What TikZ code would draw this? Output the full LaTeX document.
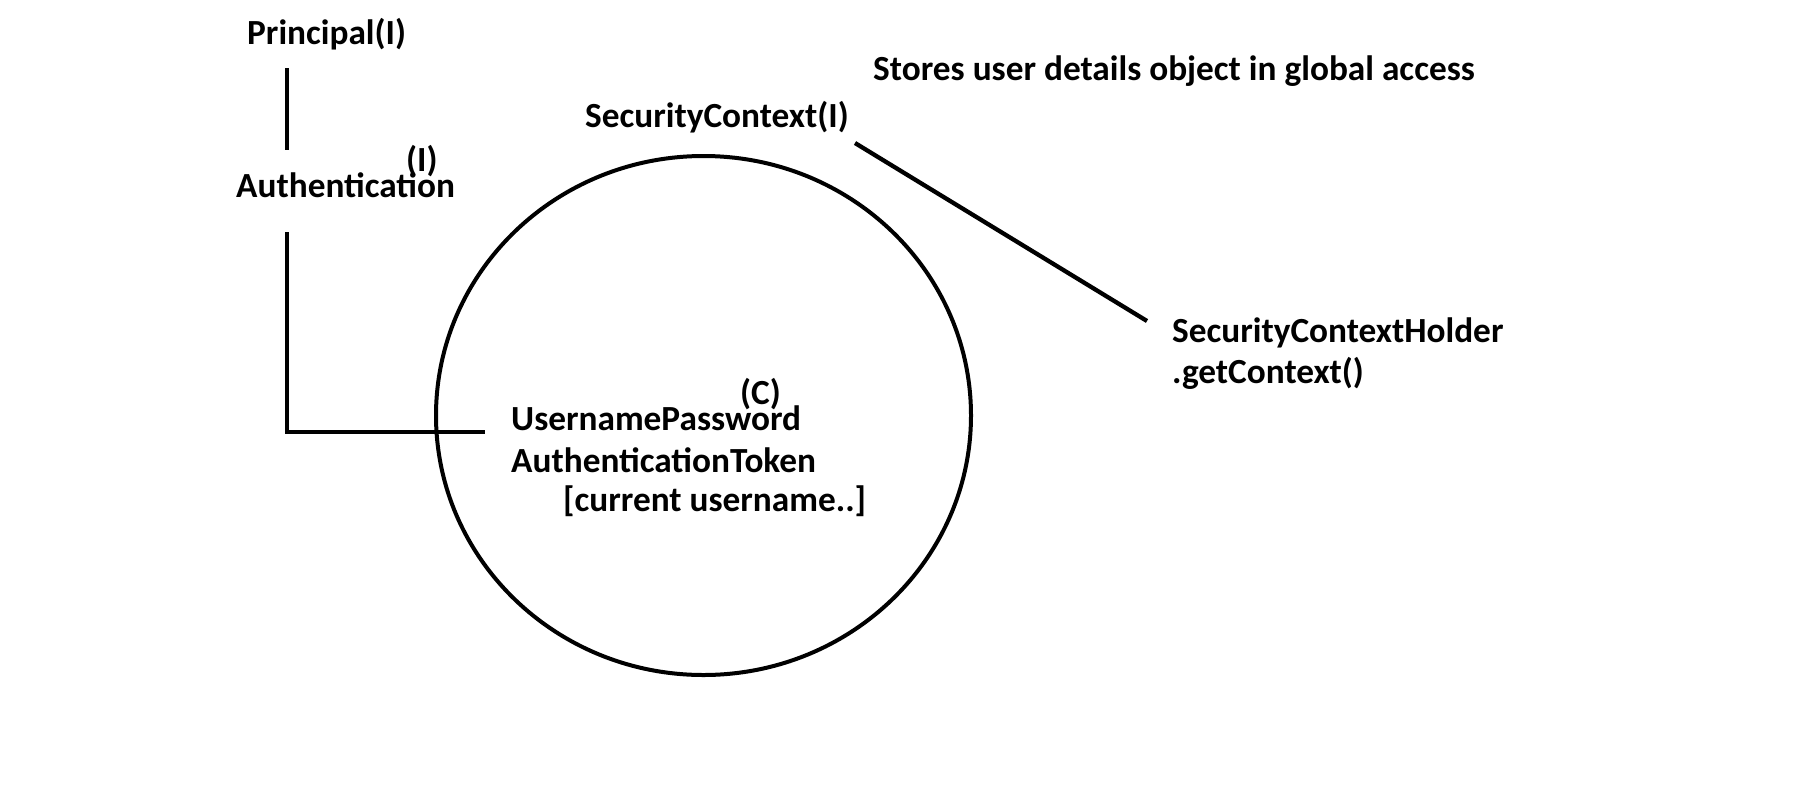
\documentclass[tikz,border=0pt]{standalone}
\usepackage{fontspec}
\setmainfont{Carlito}
\usetikzlibrary{positioning}

\begin{document}
\begin{tikzpicture}[
        x=1pt, y=-1pt,
        label/.style={font=\bfseries\fontsize{35.3}{41}\selectfont, inner sep=0pt, anchor=base west},
        link/.style={line width=4.3pt},
        ring/.style={line width=4pt}
        ]

        \useasboundingbox[fill=white] (0,0) rectangle (1800,796);

        % Nodes placed at pixel coordinates
        \node (principal) [label] at (247,44)  {Principal(I)};
        \node (auth)      [label] at (236,197) {Authentication};
        \node (authI)     [label] at (406,171) {(I)};
        \node (context)   [label] at (585,127) {SecurityContext(I)};
        \node (stores)    [label] at (873,80)  {Stores user details object in global access};
        \node (holder)    [label] at (1172,342) {SecurityContextHolder};
        \node (getctx)    [label, below=0pt of holder.base west, anchor=base west, yshift=-41pt] {.getContext()};
        \node (classC)    [label] at (740,404) {(C)};
        \node (tokenA)    [label] at (511,430) {UsernamePassword};
        \node (tokenB)    [label] at (511,472) {AuthenticationToken};
        \node (tokenC)    [label] at (563,511) {[current username..]};

        % Line end points
        \coordinate (pDown)  at (287,68);
        \coordinate (aUp)    at (287,150);
        \coordinate (aDown)  at (287,232);
        \coordinate (corner) at (287,432);
        \coordinate (tEnd)   at (485,432);
        \coordinate (cStart) at (855,143);
        \coordinate (hEnd)   at (1147,321);

        % Circle holding the token
        \draw[ring] (703.5,415.5) ellipse [x radius=267.5, y radius=259.5];

        % Connecting lines
        \draw[link] (pDown) -- (aUp);
        \draw[link] (aDown) -- (corner) -- (tEnd);
        \draw[link] (cStart) -- (hEnd);

    \end{tikzpicture}
\end{document}
